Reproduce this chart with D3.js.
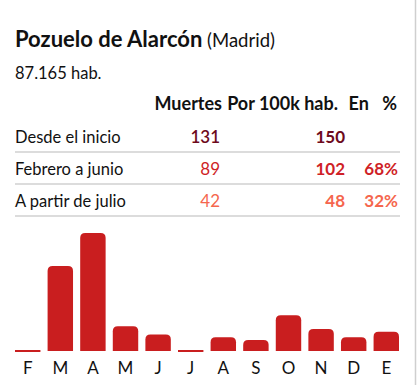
<!DOCTYPE html>
<html>
<head>
<meta charset="utf-8">
<script src="https://cdn.jsdelivr.net/npm/d3@7"></script>
<style>
body { margin: 0; background: #fff; }
svg { font-family: Lato, "Noto Sans", sans-serif; }
</style>
</head>
<body>
<script>
// datos
var municipio = 'Pozuelo de Alarcón',
    provincia = '(Madrid)',
    habitantes = '87.165 hab.';

var columnas = ['Muertes', 'Por 100k hab.', 'En %'];
var filas = ['Desde el inicio', 'Febrero a junio', 'A partir de julio'];
var muertes = [131, 89, 42];
var por100k = [150, 102, 48];
var porcentaje = ['', '68%', '32%'];
var coloresFila = ['#6e0a1c', '#cf1f27', '#f5664d'];

var meses = ['F', 'M', 'A', 'M', 'J', 'J', 'A', 'S', 'O', 'N', 'D', 'E'];
var muertesMes = [0, 31, 43, 9, 6, 0, 5, 4, 13, 8, 5, 7];

var width = 417, height = 385;

var svg = d3.select('body').append('svg')
    .attr('width', width)
    .attr('height', height);

// tarjeta
svg.append('rect')
    .attr('x', -20).attr('y', -20)
    .attr('width', 435.5).attr('height', height + 40)
    .attr('rx', 6)
    .style('fill', '#fff')
    .style('stroke', '#cfcfcf')
    .style('stroke-width', 1.5);

// titulo
var t = svg.append('text')
    .attr('x', 15).attr('y', 47)
    .style('fill', '#111');
t.append('tspan')
    .style('font-size', '22px')
    .style('font-weight', 'bold')
    .text(municipio);
t.append('tspan')
    .style('font-size', '18.5px')
    .text(' ' + provincia);

svg.append('text')
    .attr('x', 15).attr('y', 79)
    .style('font-size', '16.5px')
    .style('fill', '#111')
    .text(habitantes);

// cabecera tabla
var colX = [220, 345, 398];
var cabX = [222, 338, 397];
columnas.forEach(function(c, i) {
    svg.append('text')
        .attr('x', cabX[i]).attr('y', 110)
        .attr('text-anchor', 'end')
        .style('font-size', '18px')
        .style('font-weight', 'bold')
        .style('word-spacing', i === 2 ? '9px' : '0px')
        .style('fill', '#111')
        .text(c);
});

var filaY = d3.scaleLinear().domain([0, 1]).range([143, 175]);

filas.forEach(function(f, i) {
    var y = filaY(i);
    svg.append('text')
        .attr('x', 15).attr('y', y)
        .style('font-size', '16.5px')
        .style('fill', '#111')
        .text(f);
    svg.append('text')
        .attr('x', colX[0]).attr('y', y)
        .attr('text-anchor', 'end')
        .style('font-size', '17px')
        .style('font-weight', i === 0 ? 600 : 400)
        .style('fill', coloresFila[i])
        .text(muertes[i]);
    svg.append('text')
        .attr('x', colX[1]).attr('y', y)
        .attr('text-anchor', 'end')
        .style('font-size', '17px')
        .style('font-weight', 'bold')
        .style('fill', coloresFila[i])
        .text(por100k[i]);
    svg.append('text')
        .attr('x', colX[2]).attr('y', y)
        .attr('text-anchor', 'end')
        .style('font-size', '17px')
        .style('font-weight', 'bold')
        .style('fill', coloresFila[i])
        .text(porcentaje[i]);
    svg.append('line')
        .attr('x1', 15).attr('x2', 400)
        .attr('y1', y + 9).attr('y2', y + 9)
        .style('stroke', '#dcdcdc')
        .style('stroke-width', 2);
});

// barras
var x = d3.scaleBand()
    .domain(d3.range(meses.length))
    .range([15, 399])
    .paddingInner(0.22)
    .paddingOuter(0);

var y = d3.scaleLinear()
    .domain([0, d3.max(muertesMes)])
    .range([351, 233]);

function barra(d, i) {
    var x0 = x(i), w = x.bandwidth(), y0 = y(0);
    var h = Math.max(y0 - y(d), 2);
    var r = Math.min(5, h / 2, w / 2);
    if (h <= 2) return 'M' + x0 + ',' + (y0 - 1) + 'h' + w + 'v2h' + (-w) + 'Z';
    return 'M' + x0 + ',' + y0 +
        'V' + (y0 - h + r) +
        'Q' + x0 + ',' + (y0 - h) + ' ' + (x0 + r) + ',' + (y0 - h) +
        'H' + (x0 + w - r) +
        'Q' + (x0 + w) + ',' + (y0 - h) + ' ' + (x0 + w) + ',' + (y0 - h + r) +
        'V' + y0 + 'Z';
}

svg.selectAll('.bar')
    .data(muertesMes)
    .enter().append('path')
    .attr('class', 'bar')
    .attr('d', barra)
    .style('fill', '#c91e1f');

var eje = svg.append('g')
    .attr('transform', 'translate(0,' + 356 + ')')
    .call(d3.axisBottom(x).tickSize(0).tickFormat(function(i) { return meses[i]; }));
eje.select('.domain').remove();
eje.selectAll('text')
    .attr('dy', 0)
    .attr('y', 18)
    .style('font-family', 'Lato, "Noto Sans", sans-serif')
    .style('font-size', '17px')
    .style('fill', '#111');
</script>
</body>
</html>
